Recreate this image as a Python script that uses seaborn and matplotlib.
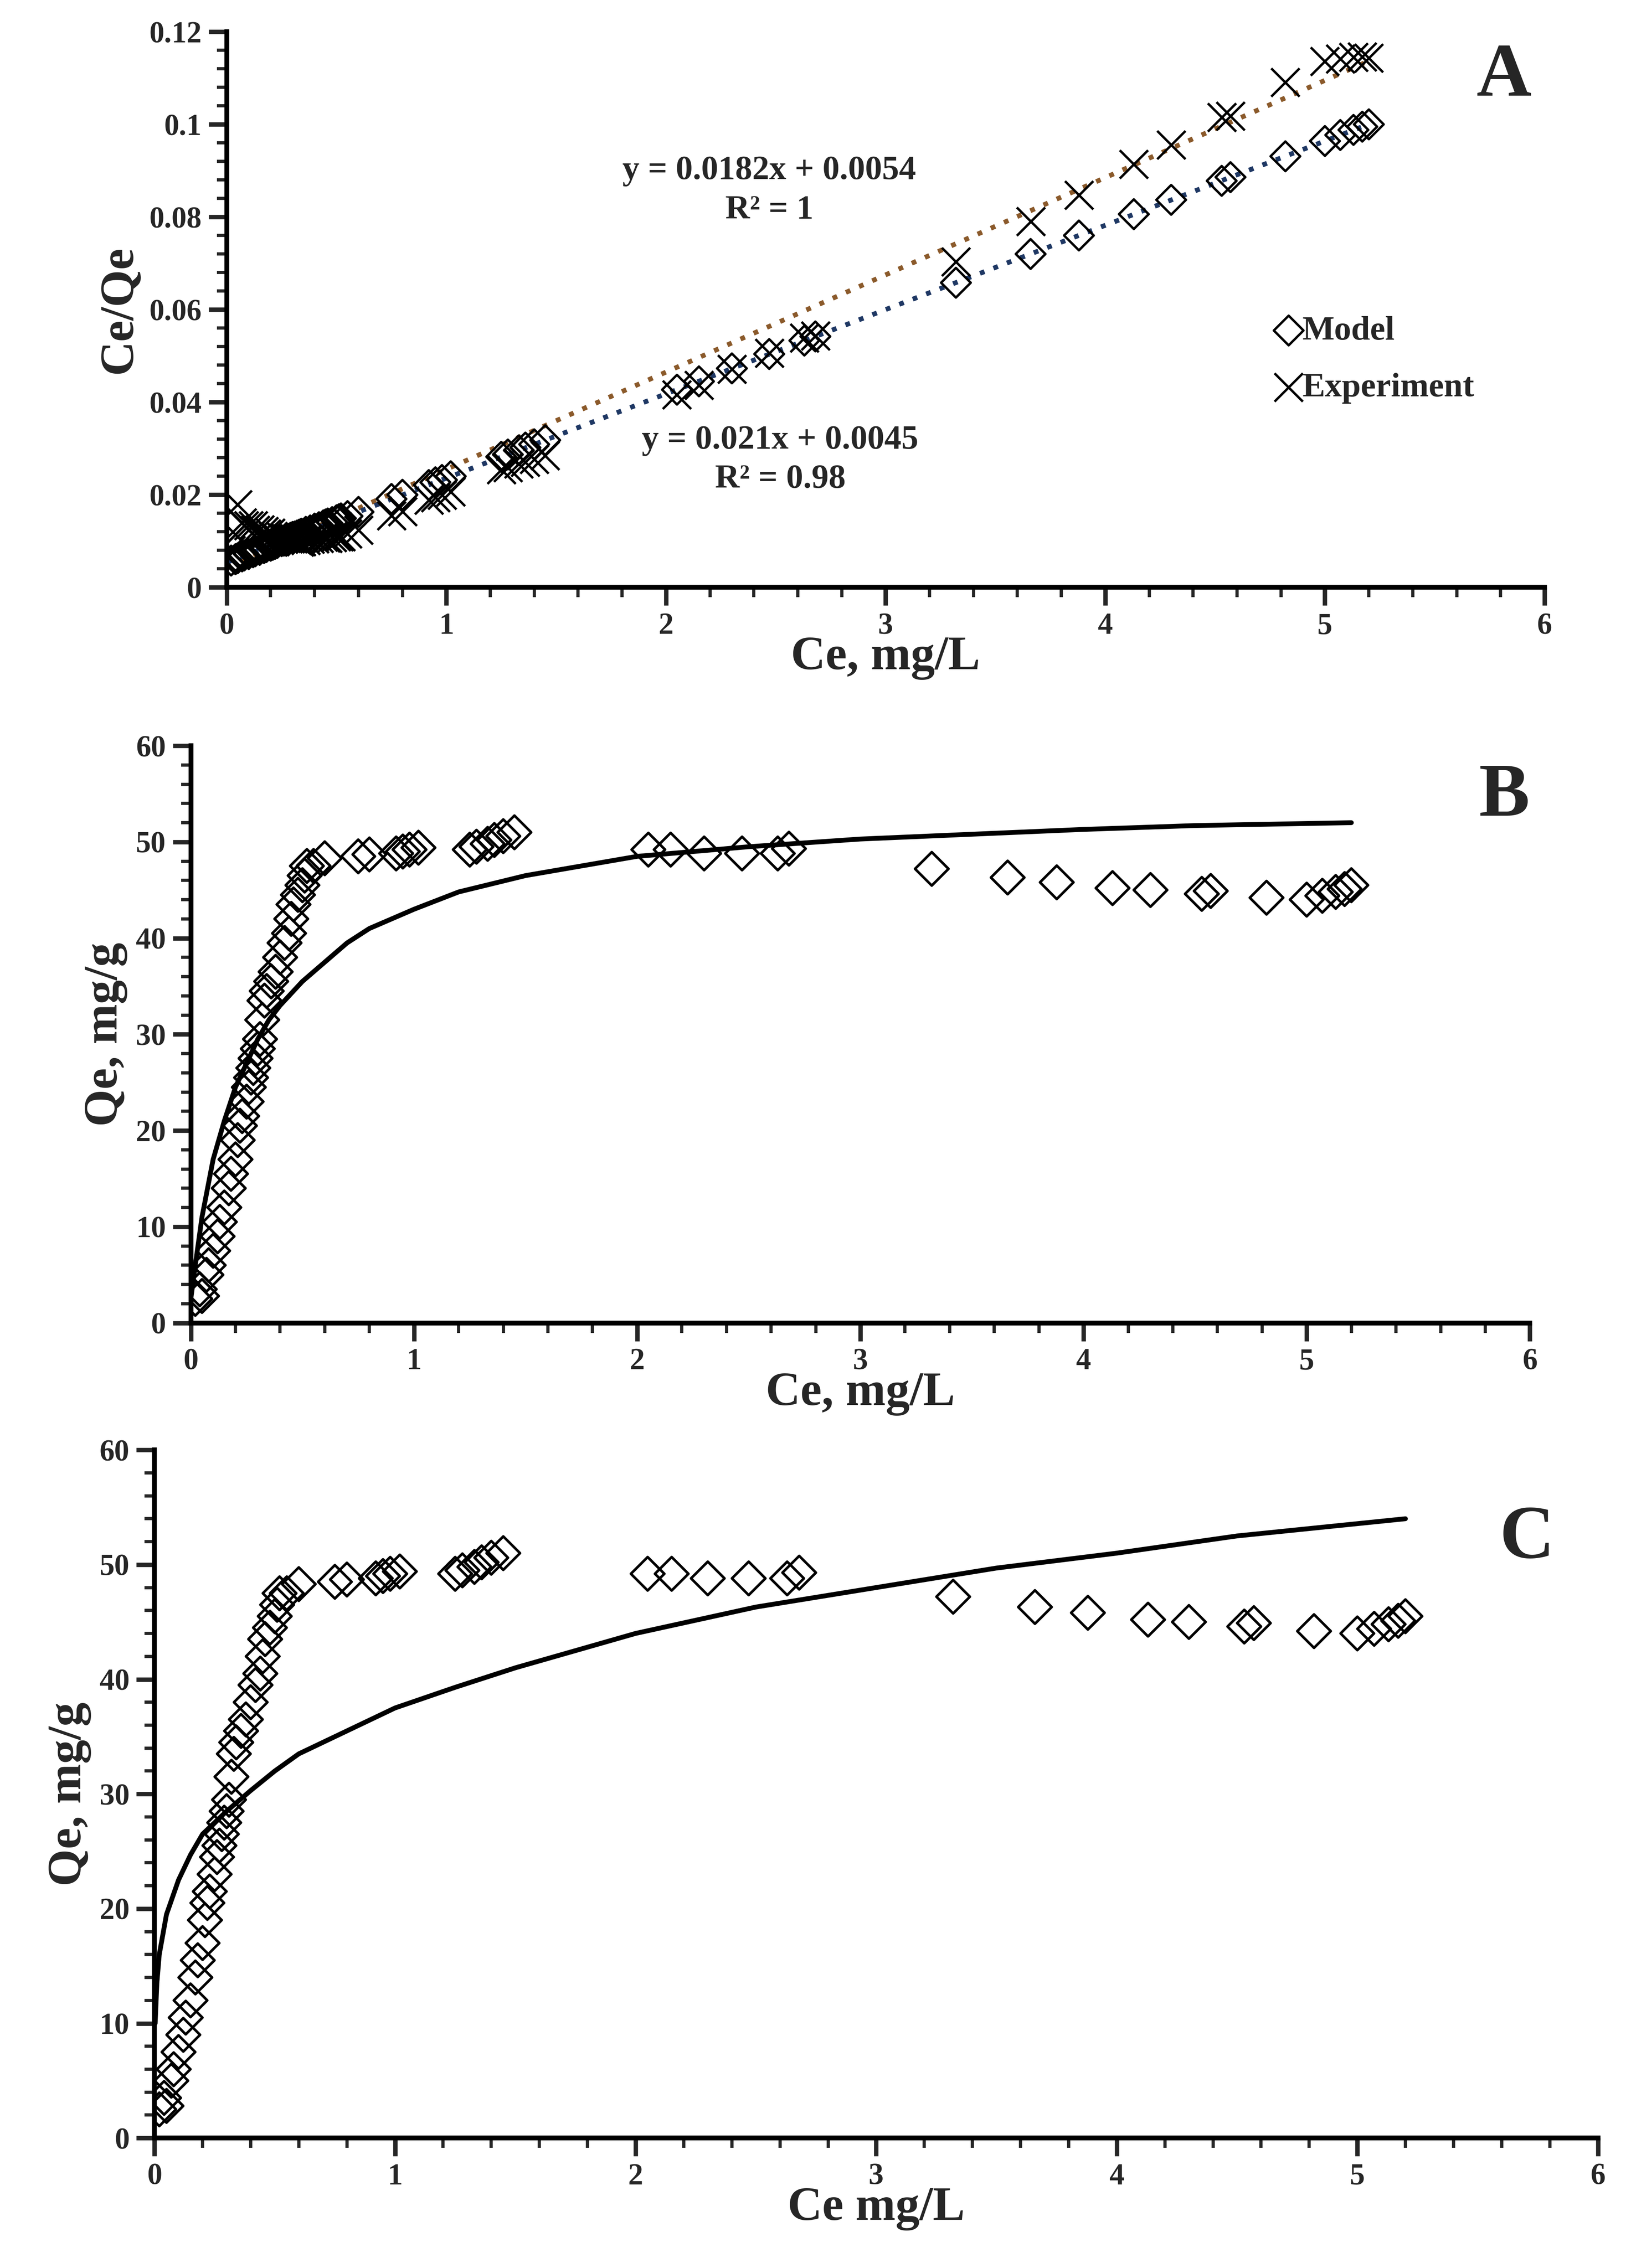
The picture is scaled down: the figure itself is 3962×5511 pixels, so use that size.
import numpy as np
import matplotlib
matplotlib.use("Agg")
import matplotlib.pyplot as plt
import seaborn as sns
from matplotlib.ticker import MultipleLocator

sns.set_theme(style="ticks")
plt.rcParams['font.family'] = ['Liberation Serif', 'DejaVu Serif']
plt.rcParams['font.weight'] = 'bold'

ce = [0.02,0.04,0.05,0.07,0.08,0.10,0.12,0.13,0.15,0.17,0.18,0.20,0.21,0.22,0.23,0.25,0.26,0.27,0.28,0.29,
      0.30,0.31,0.32,0.33,0.34,0.36,0.38,0.40,0.42,0.44,0.45,0.46,0.48,0.50,0.51,0.52,0.55,0.60,0.75,0.80,
      0.92,0.95,0.98,1.02,1.25,1.28,1.33,1.36,1.40,1.45,2.05,2.15,2.30,2.47,2.63,2.68,3.32,3.66,3.88,4.13,
      4.30,4.53,4.57,4.82,5.00,5.07,5.13,5.17,5.20]
qe = [2.5,3.5,2.8,5,6,7.5,9,10.5,12,14,15.5,17,19,20.5,21.5,23,24.5,25.5,26.5,27.5,
      28.5,29.5,31.5,33.5,34.5,35.5,36.5,38,39.5,40.5,42,43.5,44.5,45.5,46.5,47.5,47.5,48.3,48.5,48.7,
      48.8,49.0,49.2,49.4,49.2,49.5,49.8,50.2,50.6,51.0,49.2,49.2,48.8,48.8,48.8,49.3,47.2,46.3,45.8,45.2,
      45.0,44.6,44.9,44.2,44.0,44.4,44.8,45.1,45.5]
model_ratio = [0.0058,0.0061,0.0063,0.0067,0.0069,0.0072,0.0076,0.0078,0.0081,0.0085,0.0087,0.0090,0.0092,0.0094,
               0.0096,0.0100,0.0101,0.0103,0.0105,0.0107,0.0109,0.0110,0.0112,0.0114,0.0116,0.0120,0.0123,0.0127,
               0.0130,0.0134,0.0136,0.0138,0.0141,0.0145,0.0147,0.0149,0.0154,0.0163,0.0191,0.0200,0.0221,0.0227,
               0.0232,0.0240,0.0282,0.0287,0.0296,0.0302,0.0309,0.0318,0.0427,0.0445,0.0473,0.0504,0.0533,0.0542,
               0.0658,0.0720,0.0760,0.0806,0.0837,0.0878,0.0886,0.0931,0.0964,0.0977,0.0988,0.0995,0.1000]
exp_ratio = [c / q for c, q in zip(ce, qe)]

lang_x = [0,0.02,0.05,0.1,0.15,0.2,0.25,0.3,0.35,0.4,0.5,0.6,0.7,0.8,1.0,1.2,1.5,1.75,2,2.5,3,3.5,4,4.5,5.2]
lang_y = [2.5,6,11,17,21,24.5,27,29.5,31.5,33,35.5,37.5,39.5,41,43,44.8,46.5,47.5,48.5,49.5,50.3,50.8,51.3,51.7,52]
freu_x = [0.003,0.01,0.02,0.05,0.1,0.15,0.2,0.3,0.4,0.5,0.6,0.75,1,1.25,1.5,2,2.5,3,3.5,4,4.5,5.2]
freu_y = [10,13.5,16,19.5,22.5,24.7,26.5,28.5,30.3,32,33.5,35,37.5,39.3,41,44,46.3,48,49.7,51,52.5,54]

fit_x = [0, 5.2]
fit_model = [0.0054, 0.0054 + 0.0182 * 5.2]
fit_exp = [0.0045, 0.0045 + 0.021 * 5.2]

W, H = 3962, 5511
fig = plt.figure(figsize=(W / 350, H / 350), dpi=350)
axA = fig.add_axes([0.139, 0.741, 0.808, 0.245])
axB = fig.add_axes([0.117, 0.4167, 0.821, 0.2545])
axC = fig.add_axes([0.0947, 0.0573, 0.885, 0.3034])

tfs, lfs = 15, 24
def style(ax, xlab, ylab, ymax, ymaj, ymin):
    for s in ['top', 'right']:
        ax.spines[s].set_visible(False)
    for s in ['left', 'bottom']:
        ax.spines[s].set_linewidth(2.4)
        ax.spines[s].set_color('black')
    ax.set_xlim(0, 6)
    ax.set_ylim(0, ymax)
    ax.xaxis.set_major_locator(MultipleLocator(1))
    ax.xaxis.set_minor_locator(MultipleLocator(0.2))
    ax.yaxis.set_major_locator(MultipleLocator(ymaj))
    ax.yaxis.set_minor_locator(MultipleLocator(ymin))
    ax.tick_params(which='major', length=9, width=2.2, labelsize=tfs, direction='out')
    ax.tick_params(which='minor', length=5, width=1.6, direction='out')
    for lab in ax.get_xticklabels() + ax.get_yticklabels():
        lab.set_fontweight('bold')
    ax.set_xlabel(xlab, fontsize=lfs, fontweight='bold', labelpad=-2)
    ax.set_ylabel(ylab, fontsize=lfs, fontweight='bold', labelpad=4)

# Panel A
sns.lineplot(x=fit_x, y=fit_exp, ax=axA, color='#8B5A2B', lw=2.4, ls=(0, (1, 2)))
sns.lineplot(x=fit_x, y=fit_model, ax=axA, color='#1F3864', lw=2.4, ls=(0, (1, 2)))
axA.scatter(ce, model_ratio, marker='D', s=110, facecolors='none', edgecolors='black', linewidths=1.2, label='Model', zorder=3)
axA.scatter(ce, exp_ratio, marker='x', s=200, color='black', linewidths=1.2, label='Experiment', zorder=3)
style(axA, 'Ce, mg/L', 'Ce/Qe', 0.12, 0.02, 0.004)
axA.yaxis.set_major_formatter(matplotlib.ticker.FuncFormatter(lambda v, p: '0' if v == 0 else f'{v:g}'))
axA.text(2.47, 0.0857, 'y = 0.0182x + 0.0054\nR² = 1', ha='center', va='center', fontsize=17, fontweight='bold', linespacing=1.35)
axA.text(2.52, 0.0275, 'y = 0.021x + 0.0045\nR² = 0.98', ha='center', va='center', fontsize=17, fontweight='bold', linespacing=1.35)
leg = axA.legend(loc='center left', bbox_to_anchor=(0.78, 0.41), frameon=False, fontsize=17, handletextpad=-0.2,
                 labelspacing=0.75, borderaxespad=0, handlelength=1.2)
for t in leg.get_texts():
    t.set_fontweight('bold')
axA.text(0.99, 0.98, 'A', transform=axA.transAxes, ha='right', va='top', fontsize=38, fontweight='bold')

# Panel B
axB.scatter(ce, qe, marker='D', s=140, facecolors='none', edgecolors='black', linewidths=1.3, zorder=3)
sns.lineplot(x=lang_x, y=lang_y, ax=axB, color='black', lw=2.4)
style(axB, 'Ce, mg/L', 'Qe, mg/g', 60, 10, 2)
axB.text(1.0, 0.97, 'B', transform=axB.transAxes, ha='right', va='top', fontsize=38, fontweight='bold')

# Panel C
axC.scatter(ce, qe, marker='D', s=140, facecolors='none', edgecolors='black', linewidths=1.3, zorder=3)
sns.lineplot(x=freu_x, y=freu_y, ax=axC, color='black', lw=2.4)
style(axC, 'Ce mg/L', 'Qe, mg/g', 60, 10, 2)
axC.text(0.97, 0.92, 'C', transform=axC.transAxes, ha='right', va='top', fontsize=38, fontweight='bold')

fig.savefig('out.png', dpi=350)
